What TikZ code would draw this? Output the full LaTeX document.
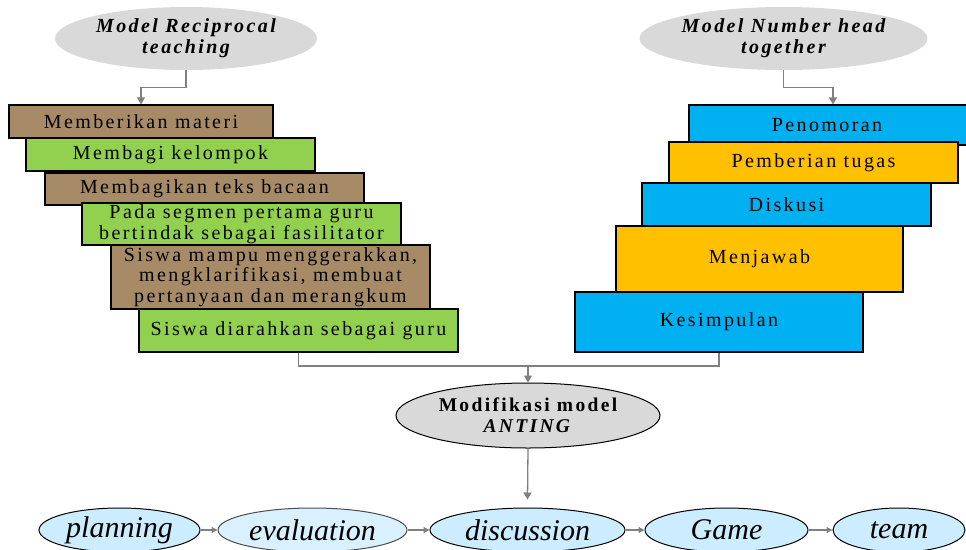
\documentclass[tikz,border=0pt]{standalone}
\usepackage{fontspec}
\setmainfont{Liberation Serif}
\newfontfamily\spacedserif{Liberation Serif}[LetterSpace=12]
\usetikzlibrary{shapes.geometric,arrows.meta}

\definecolor{boxbrown}{HTML}{A78B67}
\definecolor{boxgreen}{HTML}{92D050}
\definecolor{boxcyan}{HTML}{00B0F0}
\definecolor{boxorange}{HTML}{FFC000}
\definecolor{ovalgray}{HTML}{D9D9D9}
\definecolor{ovalblue}{HTML}{CCECFF}
\definecolor{linegray}{HTML}{808080}

\tikzset{
    stepbox/.style={draw=black, line width=1.2pt, rectangle, inner sep=0pt,
        align=center, font=\spacedserif\fontsize{20}{20.5}\selectfont},
    modeloval/.style={ellipse, fill=ovalgray, inner sep=0pt, align=center,
        font=\spacedserif\fontsize{20}{21}\selectfont\bfseries\itshape},
    phaseoval/.style={ellipse, draw=black, line width=1pt, fill=ovalblue,
        inner sep=0pt, font=\fontsize{30}{32}\selectfont\itshape},
    joinline/.style={draw=linegray, line width=1.3pt},
    link/.style={joinline, -{Triangle[width=8pt,length=7pt]}},
    shortlink/.style={joinline, -{Triangle[width=6pt,length=6pt]}}
}

\begin{document}
\begin{tikzpicture}[x=1pt, y=-1pt]
    \useasboundingbox (0,0) rectangle (966,549);

    % the two models on top
    \node (recip) at (186,38.5) [modeloval, minimum width=262pt, minimum height=63pt]
        {Model Reciprocal\\teaching};
    \node (nht) at (783.5,38.5) [modeloval, minimum width=287pt, minimum height=63pt]
        {Model Number head\\together};

    % steps of reciprocal teaching
    \node (mat)  at (141,121.5) [stepbox, fill=boxbrown, minimum width=264pt, minimum height=33pt] {Memberikan materi};
    \node (kel)  at (170.5,154.5) [stepbox, fill=boxgreen, minimum width=289pt, minimum height=33pt] {Membagi kelompok};
    \node (teks) at (204.5,189) [stepbox, fill=boxbrown, minimum width=319pt, minimum height=32pt] {Membagikan teks bacaan};
    \node (seg)  at (241.5,224) [stepbox, fill=boxgreen, minimum width=319pt, minimum height=42pt]
        {Pada segmen pertama guru\\bertindak sebagai fasilitator};
    \node (mampu) at (270.5,277) [stepbox, fill=boxbrown, minimum width=319pt, minimum height=64pt]
        {Siswa mampu menggerakkan,\\mengklarifikasi, membuat\\pertanyaan dan merangkum};
    \node (guru) at (298.5,330.5) [stepbox, fill=boxgreen, minimum width=319pt, minimum height=43pt] {Siswa diarahkan sebagai guru};

    % steps of number head together
    \node (nom)  at (833,125) [stepbox, fill=boxcyan, minimum width=288pt, minimum height=40pt] {\hspace*{-12pt}Penomoran};
    \node (tug)  at (813.5,162.5) [stepbox, fill=boxorange, minimum width=289pt, minimum height=41pt] {Pemberian tugas};
    \node (disk) at (786.5,204.5) [stepbox, fill=boxcyan, minimum width=289pt, minimum height=43pt] {Diskusi};
    \node (jaw)  at (759.5,259) [stepbox, fill=boxorange, minimum width=287pt, minimum height=66pt] {Menjawab};
    \node (kes)  at (719,322) [stepbox, fill=boxcyan, minimum width=288pt, minimum height=60pt] {Kesimpulan};

    % the modified model
    \node (anting) at (528,415.5) [modeloval, draw=black, line width=1pt,
        minimum width=264pt, minimum height=65pt, font=\spacedserif\fontsize{19.5}{21}\selectfont\bfseries]
        {Modifikasi model\\\textit{ANTING}};

    % its phases
    \node (plan) at (119.5,530) [phaseoval, minimum width=161pt, minimum height=44pt] {planning};
    \node (eval) at (312.5,530) [phaseoval, draw=black!70, fill=ovalblue!75, minimum width=189pt, minimum height=44pt] {evaluation};
    \node (disc) at (527.5,530) [phaseoval, minimum width=195pt, minimum height=44pt] {discussion};
    \node (game) at (726.5,530) [phaseoval, minimum width=163pt, minimum height=44pt] {Game};
    \node (team) at (899,530) [phaseoval, minimum width=132pt, minimum height=44pt] {team};

    \coordinate (join) at (528,366);

    \draw[link] (recip.south) -- ++(0,17) -| (mat.north);
    \draw[link] (nht.south) -- ++(0,17) -| (nom.north);
    \draw[joinline] (guru.south) |- (join);
    \draw[joinline] (kes.south) |- (join);
    \draw[link] (join) -- (anting.north);
    \draw[link] (anting.south) -- ([yshift=8pt]disc.north);

    \draw[shortlink] (plan) -- (eval);
    \draw[shortlink] (eval) -- (disc);
    \draw[shortlink] (disc) -- (game);
    \draw[shortlink] (game) -- (team);

\end{tikzpicture}
\end{document}
